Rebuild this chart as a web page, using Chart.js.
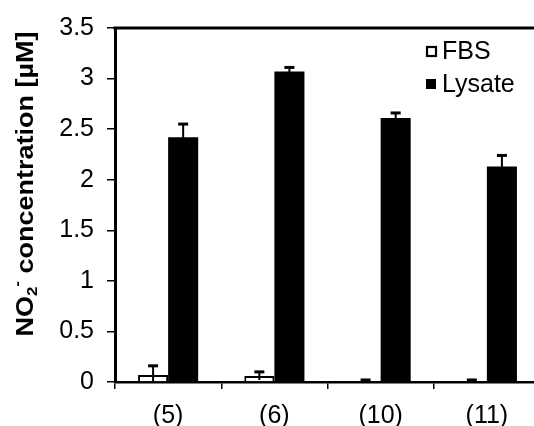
<!DOCTYPE html>
<html lang="en">
<head>
  <meta charset="UTF-8">
  <title>NO2- concentration</title>
  <script src="https://cdn.jsdelivr.net/npm/chart.js@4.4.3/dist/chart.umd.min.js"></script>
  <style>
    html, body { margin: 0; padding: 0; background: #fff; overflow: hidden; }
    #chart { display: block; }
  </style>
</head>
<body>
  <canvas id="chart" width="540" height="426"></canvas>

  <script>
    const categories = ['(5)', '(6)', '(10)', '(11)'];
    const fbsValues = [0.07, 0.06, 0, 0];
    const fbsErrors = [0.09, 0.04, 0.02, 0.02];
    const lysateValues = [2.42, 3.07, 2.61, 2.13];
    const lysateErrors = [0.13, 0.04, 0.05, 0.11];
    const yTicks = [0, 0.5, 1, 1.5, 2, 2.5, 3, 3.5];

    const FONT = '"Liberation Sans", Arial, sans-serif';

    // error bars on top of each bar (symmetric, clipped at the axis)
    const errorBars = {
      id: 'errorBars',
      afterDatasetsDraw(chart) {
        const ctx = chart.ctx;
        const y = chart.scales.y;
        chart.data.datasets.forEach((ds, i) => {
          const meta = chart.getDatasetMeta(i);
          meta.data.forEach((bar, j) => {
            const v = ds.data[j], e = ds.errors[j];
            const top = y.getPixelForValue(v + e);
            const bot = Math.min(y.getPixelForValue(Math.max(v - e, 0)), y.bottom);
            ctx.save();
            ctx.strokeStyle = '#000';
            ctx.lineWidth = 2;
            ctx.beginPath();
            ctx.moveTo(bar.x, top);
            ctx.lineTo(bar.x, bot);
            ctx.stroke();
            ctx.lineWidth = 3;
            ctx.beginPath();
            ctx.moveTo(bar.x - 5, top);
            ctx.lineTo(bar.x + 5, top);
            ctx.stroke();
            ctx.restore();
          });
        });
      }
    };

    // top frame line, legend and the rotated axis title with sub/superscript
    const decorations = {
      id: 'decorations',
      afterDraw(chart) {
        const ctx = chart.ctx;
        const area = chart.chartArea;
        ctx.save();
        ctx.strokeStyle = '#000';
        ctx.lineWidth = 3;
        ctx.beginPath();
        ctx.moveTo(area.left - 1.5, area.top);
        ctx.lineTo(area.right + 2, area.top);
        ctx.stroke();

        // legend
        ctx.textBaseline = 'middle';
        ctx.textAlign = 'left';
        ctx.font = '25px ' + FONT;
        ctx.fillStyle = '#000';
        chart.data.datasets.forEach((ds, i) => {
          const cy = 51 + i * 33;
          if (ds.backgroundColor === '#ffffff') {
            ctx.lineWidth = 2.2;
            ctx.strokeRect(427, cy - 4, 9, 9);
          } else {
            ctx.fillRect(426, cy - 5, 10, 10);
          }
          ctx.fillText(ds.label, 442, cy + 1);
        });

        // y axis title
        const parts = [
          { t: 'NO', size: 27, dy: 0 },
          { t: '2', size: 17, dy: 7 },
          { t: '-', size: 17, dy: -9 },
          { t: ' concentration [\u00b5M]', size: 27, dy: 0 }
        ];
        let total = 0;
        parts.forEach(p => {
          ctx.font = 'bold ' + p.size + 'px ' + FONT;
          p.w = ctx.measureText(p.t).width;
          total += p.w;
        });
        ctx.translate(26, 184);
        ctx.rotate(-Math.PI / 2);
        ctx.scale(1, 0.9);
        let x = -total / 2;
        parts.forEach(p => {
          ctx.font = 'bold ' + p.size + 'px ' + FONT;
          ctx.fillText(p.t, x, p.dy);
          x += p.w;
        });
        ctx.restore();
      }
    };

    new Chart(document.getElementById('chart'), {
      type: 'bar',
      data: {
        labels: categories,
        datasets: [
          {
            label: 'FBS',
            data: fbsValues,
            errors: fbsErrors,
            backgroundColor: '#ffffff',
            borderColor: '#000000',
            borderWidth: 2
          },
          {
            label: 'Lysate',
            data: lysateValues,
            errors: lysateErrors,
            backgroundColor: '#000000',
            borderColor: '#000000',
            borderWidth: 0
          }
        ]
      },
      options: {
        responsive: false,
        animation: false,
        categoryPercentage: 0.566,
        barPercentage: 1,
        layout: { padding: { top: 27, left: 0, right: 0, bottom: 0 } },
        plugins: {
          legend: { display: false },
          tooltip: { enabled: false }
        },
        scales: {
          x: {
            afterFit: s => { s.height = 44; },
            grid: {
              offset: true,
              drawOnChartArea: false,
              tickLength: 7,
              color: '#000',
              lineWidth: 1.5
            },
            border: { display: true, color: '#000', width: 2.5 },
            ticks: {
              color: '#000',
              padding: 12,
              font: { family: FONT, size: 25 }
            }
          },
          y: {
            min: 0,
            max: 3.5,
            afterFit: s => { s.width = 115; },
            afterBuildTicks: s => { s.ticks = yTicks.map(v => ({ value: v })); },
            grid: {
              drawOnChartArea: false,
              tickLength: 8,
              color: '#000',
              lineWidth: 1.5
            },
            border: { display: true, color: '#000', width: 3 },
            ticks: {
              color: '#000',
              padding: 13,
              font: { family: FONT, size: 25 },
              callback: v => String(v)
            }
          }
        }
      },
      plugins: [errorBars, decorations]
    });
  </script>
</body>
</html>
